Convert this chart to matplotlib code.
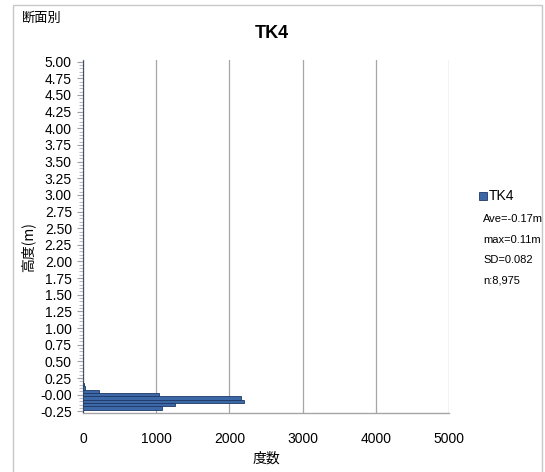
import numpy as np
import matplotlib
matplotlib.use('Agg')
import matplotlib.pyplot as plt
from matplotlib.patches import Rectangle
from matplotlib import font_manager

plt.rcParams['font.family'] = ['Liberation Sans', 'Noto Sans CJK JP', 'DejaVu Sans']

# height classes (m), 0.05 step from -0.25 to 5.00
heights = np.round(np.arange(-0.25, 5.0001, 0.05), 2)

# frequencies (classes not listed are 0)
filled_heights = [-0.20, -0.15, -0.10, -0.05, 0.00, 0.05, 0.10, 0.15]
filled_counts = [1085, 1250, 2205, 2160, 1040, 220, 30, 10]

counts = np.zeros(len(heights))
for h, c in zip(filled_heights, filled_counts):
    counts[np.argmin(np.abs(heights - h))] = c

tick_every = 5
x_ticks = [0, 1000, 2000, 3000, 4000, 5000]

title = 'TK4'
corner_label = '断面別'
x_label = '度数'
y_label = '高度(m)'
legend_label = 'TK4'
stats_lines = ['Ave=-0.17m', 'max=0.11m', 'SD=0.082', 'n:8,975']

# narrow font for the stats box if it is there
names = {f.name for f in font_manager.fontManager.ttflist}
if 'Liberation Sans Narrow' in names:
    stats_font, stats_size = ['Liberation Sans Narrow'], 9.5
else:
    stats_font, stats_size = ['Liberation Sans'], 8

fig = plt.figure(figsize=(5.45, 4.72), dpi=100)
W, H = 545, 472

# outer chart border
fig.patches.append(Rectangle((13 / W, -0.02), (542 - 13) / W, 1 - 5 / H + 0.02,
                             transform=fig.transFigure, fill=False,
                             edgecolor='#c8c8c8', lw=1.0))

ax = fig.add_axes([83 / W, 1 - 413 / H, (449 - 83) / W, (413 - 60) / H])
idx = np.arange(len(heights))
ax.barh(idx, counts, height=1.0, color='#3C68A8', edgecolor='#1F3864', lw=0.6, zorder=3)

ax.set_xlim(0, 5000)
ax.set_ylim(-0.5, len(heights) - 0.5)
ax.set_xticks(x_ticks)
ax.set_xticklabels([str(v) for v in x_ticks], fontsize=10)
ax.set_yticks(idx[::tick_every])
ax.set_yticklabels(['%.2f' % v for v in heights[::tick_every]], fontsize=10)
ax.set_yticks(idx, minor=True)
ax.tick_params(axis='y', which='major', length=4, color='#a0a0a0', pad=4)
ax.tick_params(axis='y', which='minor', length=3, color='#b0b0b0')
ax.tick_params(axis='x', length=0, pad=14)
ax.grid(axis='x', color='#a6a6a6', lw=0.9, zorder=0)

for s in ['top', 'right']:
    ax.spines[s].set_visible(False)
for s in ['left', 'bottom']:
    ax.spines[s].set_color('#a6a6a6')
    ax.spines[s].set_linewidth(1.0)

ax.set_xlabel(x_label, fontsize=10, fontfamily=['Noto Sans CJK JP'], labelpad=4)
ax.set_ylabel(y_label, fontsize=10, fontfamily=['Noto Sans CJK JP'], labelpad=1)
ax.yaxis.set_label_coords(-0.13, 0.47)

fig.text(272 / W, 1 - 33 / H, title, ha='center', va='center', fontsize=13, fontweight='bold')
fig.text(22 / W, 1 - 18 / H, corner_label, ha='left', va='center', fontsize=9.5,
         fontfamily=['Noto Sans CJK JP'])

# legend marker and text
fig.patches.append(Rectangle((479 / W, 1 - 200 / H), 8 / W, 8 / H, transform=fig.transFigure,
                             facecolor='#3C68A8', edgecolor='#1F3864', lw=0.6))
fig.text(489 / W, 1 - 196 / H, legend_label, ha='left', va='center', fontsize=10)
for i, line in enumerate(stats_lines):
    fig.text(483 / W, 1 - (219 + i * 20.5) / H, line, ha='left', va='center',
             fontsize=stats_size, fontfamily=stats_font)

fig.savefig('out.png', dpi=100)
